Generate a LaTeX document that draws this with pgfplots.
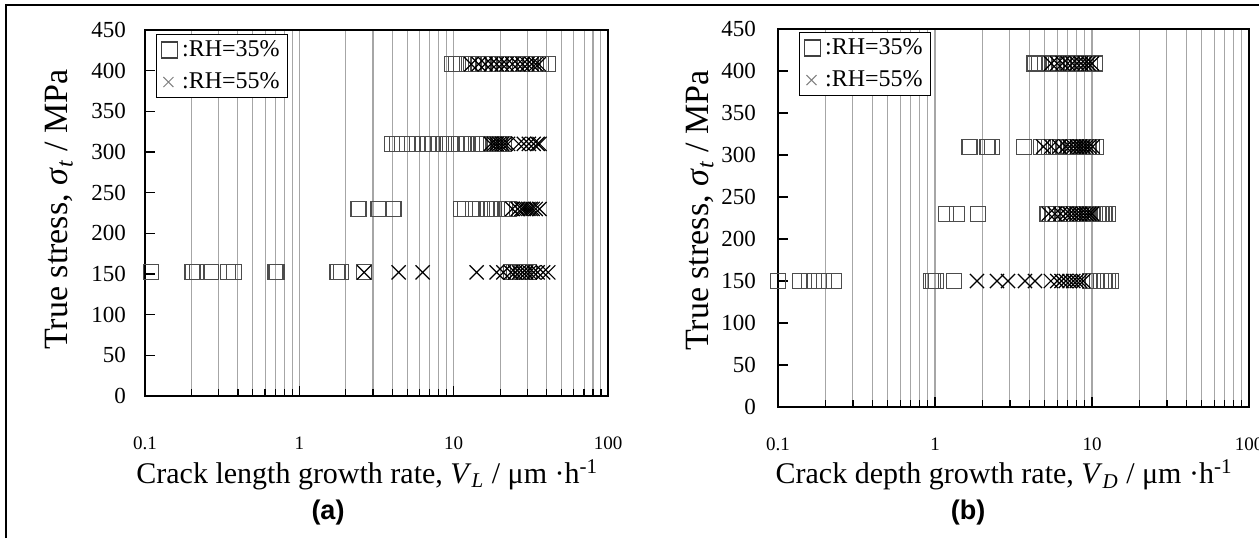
\documentclass[border=0pt]{standalone}
\usepackage{fontspec}
\setmainfont{Liberation Serif}
\newfontfamily\panelfont{Liberation Sans}
\usepackage{pgfplots}
\pgfplotsset{compat=1.18}

\begin{document}
\begin{tikzpicture}
\useasboundingbox (0,0) rectangle (629.5pt,269pt);
\draw[line width=1pt] (3pt,0) -- (3pt,266.5pt) -- (629.5pt,266.5pt);

% (a) crack length growth rate
\begin{axis}[
  at={(72.5pt,71pt)}, anchor=south west,
  xmode=log, scale only axis, width=231.5pt, height=183pt,
  xmin=0.1, xmax=100, ymin=0, ymax=450,
  xtick={0.1,1,10,100}, xticklabels={0.1,1,10,100},
  ytick={0,50,100,150,200,250,300,350,400,450},
  yticklabels={0,50,100,150,200,250,300,350,400,450},
  minor y tick num=0,
  tick align=inside, xtick pos=left, ytick pos=left,
  major tick length=5pt, minor tick length=3.5pt,
  tick style={black, line width=0.6pt},
  xmajorgrids, xminorgrids,
  major grid style={gray!70, line width=0.55pt},
  minor grid style={gray!70, line width=0.55pt},
  axis line style={line width=0.8pt},
  yticklabel style={font=\fontsize{11.5}{12}\selectfont, xshift=-6pt},
  xticklabel style={font=\fontsize{9.5}{10}\selectfont, yshift=-17pt},
  xlabel={Crack length growth rate, \textit{V}\textsubscript{\textit{L}} / μm ·h\textsuperscript{-1}},
  xlabel style={font=\fontsize{15}{17}\selectfont, anchor=center,
    at={(axis description cs:0.48,-0.215)}},
  ylabel={True stress, \textit{σ}\textsubscript{\textit{t}} / MPa},
  ylabel style={font=\fontsize{17}{19}\selectfont, anchor=center,
    at={(axis description cs:-0.186,0.51)}},
  legend cell align=left,
  legend style={draw=black, line width=0.6pt, fill=white,
    font=\fontsize{12}{14}\selectfont, inner xsep=2pt, inner ysep=1pt,
    row sep=2.5pt, anchor=north west, at={(0.024,0.989)}},
]
\addplot[only marks, mark=square, mark size=3.75pt,
    mark options={black!70, line width=0.6pt},
    legend image code/.code={\draw[black!75, line width=0.7pt]
      (0pt,-4pt) rectangle (8pt,4pt);}] coordinates {
  (9.8,408) (10.4,408) (11.2,408) (12.5,408) (13.4,408) (14.5,408) (15.6,408)
  (17,408) (18.3,408) (19.8,408) (21.4,408) (23,408) (25,408) (27,408)
  (29,408) (31.5,408) (34,408) (37,408) (41,408)
  (4.0,310) (4.3,310) (4.6,310) (5.0,310) (5.4,310) (5.8,310) (6.3,310)
  (6.8,310) (7.3,310) (8.0,310) (8.7,310) (9.5,310) (10.3,310) (11.2,310)
  (12.1,310) (13.2,310) (14.5,310) (15.5,310) (16.5,310) (17.5,310)
  (18.5,310) (19.8,310) (21.3,310)
  (2.42,230) (3.26,230) (4.08,230) (11.1,230) (11.9,230) (13.4,230)
  (14.9,230) (16.3,230) (17.6,230) (19,230) (20.5,230) (21.5,230) (22.7,230)
  (0.109,152) (0.203,152) (0.216,152) (0.268,152) (0.346,152) (0.376,152)
  (0.70,152) (0.72,152) (1.77,152) (1.86,152) (2.63,152) (23.4,152)
  (24.5,152) (26,152) (27.5,152) (28.5,152) (30.7,152)
};
\addlegendentry{:RH=35\%}
\addplot[only marks, mark=x, mark size=5pt,
    mark options={black, line width=0.6pt},
    legend image code/.code={\draw[gray, line width=0.5pt]
      (1pt,-2.5pt) -- (6pt,2.5pt) (1pt,2.5pt) -- (6pt,-2.5pt);}] coordinates {
  (13,408) (14.5,408) (16,408) (17.5,408) (19,408) (20.5,408) (22,408)
  (24,408) (26,408) (28,408) (30,408) (32,408) (34,408) (35.6,408)
  (17.4,310) (18.3,310) (19,310) (19.8,310) (20.6,310) (21.5,310) (22.5,310)
  (26.4,310) (28.5,310) (30.7,310) (33,310) (35,310) (36,310)
  (24,230) (26,230) (27.5,230) (28.5,230) (29.5,230) (30.5,230) (31.5,230)
  (32.5,230) (34,230) (36,230)
  (2.63,152) (4.4,152) (6.3,152) (14.1,152) (19,152) (21,152) (23.5,152)
  (25,152) (26.5,152) (28,152) (29.5,152) (31,152) (33,152) (35,152)
  (38,152) (41,152)
};
\addlegendentry{:RH=55\%}
\end{axis}

% (b) crack depth growth rate
\begin{axis}[
  at={(389pt,65.5pt)}, anchor=south west,
  xmode=log, scale only axis, width=235.5pt, height=189pt,
  xmin=0.1, xmax=100, ymin=0, ymax=450,
  xtick={0.1,1,10,100}, xticklabels={0.1,1,10,100},
  ytick={0,50,100,150,200,250,300,350,400,450},
  yticklabels={0,50,100,150,200,250,300,350,400,450},
  minor y tick num=0,
  tick align=inside, xtick pos=left, ytick pos=left,
  major tick length=5pt, minor tick length=3.5pt,
  tick style={black, line width=0.6pt},
  xmajorgrids, xminorgrids,
  major grid style={gray!70, line width=0.55pt},
  minor grid style={gray!70, line width=0.55pt},
  axis line style={line width=0.8pt},
  yticklabel style={font=\fontsize{11.5}{12}\selectfont, xshift=-7.5pt},
  xticklabel style={font=\fontsize{9.5}{10}\selectfont, yshift=-12pt},
  xlabel={Crack depth growth rate, \textit{V}\textsubscript{\textit{D}} / μm ·h\textsuperscript{-1}},
  xlabel style={font=\fontsize{15}{17}\selectfont, anchor=center,
    at={(axis description cs:0.48,-0.18)}},
  ylabel={True stress, \textit{σ}\textsubscript{\textit{t}} / MPa},
  ylabel style={font=\fontsize{17}{19}\selectfont, anchor=center,
    at={(axis description cs:-0.166,0.52)}},
  legend cell align=left,
  legend style={draw=black, line width=0.6pt, fill=white,
    font=\fontsize{12}{14}\selectfont, inner xsep=2pt, inner ysep=1pt,
    row sep=2.5pt, anchor=north west, at={(0.045,0.992)}},
]
\addplot[only marks, mark=square, mark size=3.75pt,
    mark options={black!70, line width=0.6pt},
    legend image code/.code={\draw[black!75, line width=0.7pt]
      (0pt,-4pt) rectangle (8pt,4pt);}] coordinates {
  (4.3,409) (4.6,409) (5.0,409) (5.3,409) (5.6,409) (5.9,409) (6.2,409)
  (6.6,409) (7.0,409) (7.4,409) (7.8,409) (8.2,409) (8.7,409) (9.2,409)
  (9.7,409) (10.4,409)
  (1.66,310) (2.16,310) (2.32,310) (3.71,310) (4.73,310) (5.0,310) (5.3,310)
  (5.7,310) (6.1,310) (6.5,310) (7.0,310) (7.4,310) (7.8,310) (8.2,310)
  (8.6,310) (9.0,310) (9.5,310) (10,310) (10.6,310)
  (1.17,230) (1.38,230) (1.88,230) (5.2,230) (5.6,230) (6.0,230) (6.5,230)
  (7.0,230) (7.5,230) (8.0,230) (8.5,230) (9.0,230) (9.5,230) (10,230)
  (10.5,230) (11,230) (11.5,230) (12,230) (12.6,230)
  (0.1,150) (0.138,150) (0.158,150) (0.17,150) (0.183,150) (0.196,150)
  (0.228,150) (0.94,150) (0.97,150) (1.02,150) (1.32,150) (9.7,150)
  (10.2,150) (10.8,150) (11.4,150) (12,150) (12.6,150) (13.2,150)
};
\addlegendentry{:RH=35\%}
\addplot[only marks, mark=x, mark size=5pt,
    mark options={black, line width=0.6pt},
    legend image code/.code={\draw[gray, line width=0.5pt]
      (1pt,-2.5pt) -- (6pt,2.5pt) (1pt,2.5pt) -- (6pt,-2.5pt);}] coordinates {
  (5.5,409) (6,409) (6.5,409) (7,409) (7.5,409) (8,409) (8.5,409) (9,409)
  (9.5,409) (10,409)
  (4.9,310) (5.5,310) (6.2,310) (6.8,310) (7.2,310) (7.6,310) (8.0,310)
  (8.4,310) (8.8,310) (9.2,310) (9.6,310) (10.1,310)
  (5.3,230) (5.8,230) (6.3,230) (6.8,230) (7.2,230) (7.6,230) (8.0,230)
  (8.4,230) (8.8,230) (9.2,230) (9.6,230) (10,230)
  (1.85,150) (2.48,150) (2.92,150) (3.74,150) (4.33,150) (5.47,150)
  (6.0,150) (6.4,150) (6.8,150) (7.2,150) (7.6,150) (8.0,150) (8.4,150)
  (8.8,150)
};
\addlegendentry{:RH=55\%}
\end{axis}

\node[font=\panelfont\bfseries\fontsize{13.5}{16}\selectfont] at (164pt,12.5pt) {(a)};
\node[font=\panelfont\bfseries\fontsize{13.5}{16}\selectfont] at (484pt,12.5pt) {(b)};
\end{tikzpicture}
\end{document}
